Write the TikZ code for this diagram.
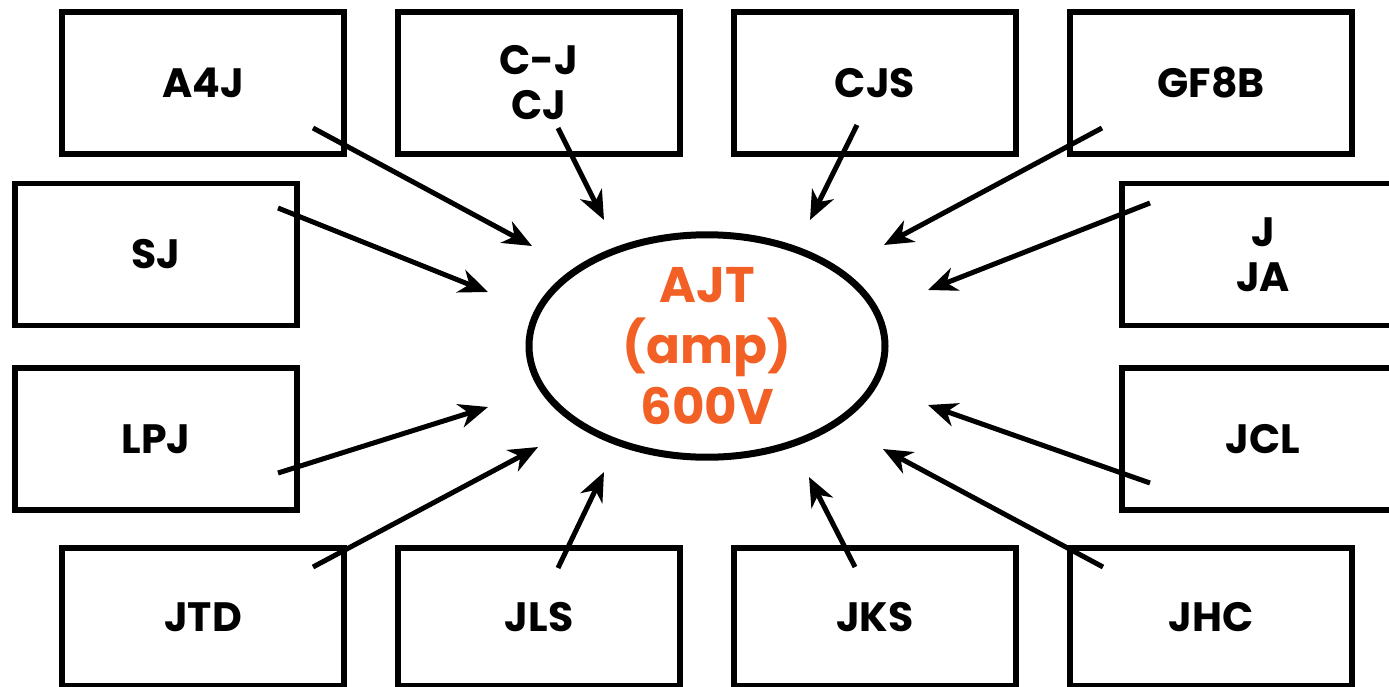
\documentclass[tikz,border=0pt]{standalone}
\usepackage{fontspec}
\setmainfont{Poppins}[BoldFont={Poppins Bold}]
\usetikzlibrary{arrows.meta,shapes.geometric}
\definecolor{amporange}{RGB}{242,96,38}
\tikzset{
  srcbox/.style={draw=black, line width=5.5pt, minimum width=282pt, minimum height=142pt,
    inner sep=0pt, align=center, font=\fontsize{41}{45}\selectfont\bfseries},
  lowbox/.style={srcbox, minimum height=138pt},
  hub/.style={draw=black, line width=7pt, ellipse, minimum width=356pt, minimum height=168pt,
    inner sep=0pt, align=center, text=amporange, font=\fontsize{50}{61}\selectfont\bfseries},
  feed/.style={draw=black, line width=5pt, -{Stealth[length=29pt,width=24pt,inset=9pt]}}
}
\begin{document}
\begin{tikzpicture}[x=1pt,y=-1pt]
\useasboundingbox (0,0) rectangle (1389,686);
% boxes
\node[srcbox] (a4j) at (203,83) {A4J};
\node[srcbox] (cjcj) at (539,83) {C-J\\CJ};
\node[srcbox] (cjs) at (875,83) {CJS};
\node[srcbox] (gf8b) at (1211,83) {GF8B};
\node[srcbox] (sj) at (156,254.5) {SJ};
\node[srcbox] (lpj) at (156,439) {LPJ};
\node[srcbox] (jja) at (1263,254.5) {J\\JA};
\node[srcbox] (jcl) at (1263,439) {JCL};
\node[lowbox] (jtd) at (203,617) {JTD};
\node[lowbox] (jls) at (539,617) {JLS};
\node[lowbox] (jks) at (875,617) {JKS};
\node[lowbox] (jhc) at (1211,617) {JHC};
% hub
\node[hub] (amp) at (707,346) {AJT\\(amp)\\600V};
% connector start points (inside the boxes) and end points (near the hub)
\coordinate (s1) at (313,128);  \coordinate (e1) at (532,246);
\coordinate (s2) at (558,128);  \coordinate (e2) at (604,220);
\coordinate (s3) at (857,125);  \coordinate (e3) at (810,220);
\coordinate (s4) at (1102,128); \coordinate (e4) at (884,245);
\coordinate (s5) at (278,208);  \coordinate (e5) at (488,292);
\coordinate (s6) at (1150,203); \coordinate (e6) at (928,290);
\coordinate (s7) at (278,473);  \coordinate (e7) at (488,407);
\coordinate (s8) at (1150,483); \coordinate (e8) at (928,405);
\coordinate (s9) at (313,567);  \coordinate (e9) at (538,447);
\coordinate (s10) at (558,568); \coordinate (e10) at (604,472);
\coordinate (s11) at (855,567); \coordinate (e11) at (809,477);
\coordinate (s12) at (1103,567);\coordinate (e12) at (883,449);
\foreach \i in {1,...,12} { \draw[feed] (s\i) -- (e\i); }
\end{tikzpicture}
\end{document}
